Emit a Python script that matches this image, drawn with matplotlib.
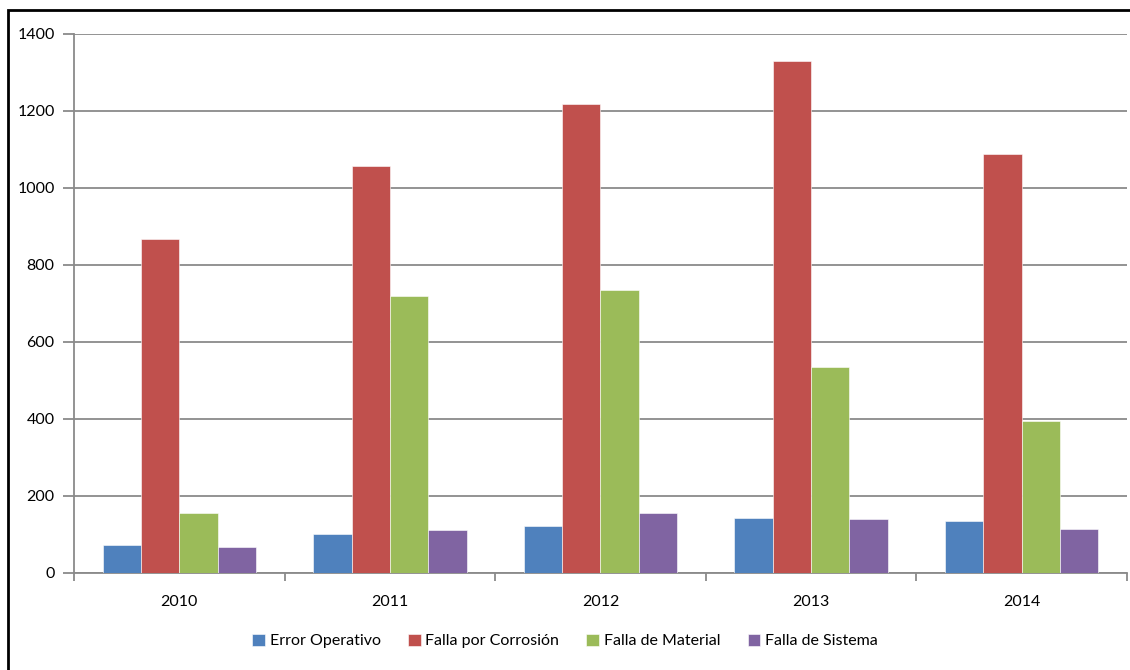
import numpy as np
from matplotlib import pyplot as plt
from matplotlib.patches import Rectangle

years = ["2010", "2011", "2012", "2013", "2014"]
series = ["Error Operativo", "Falla por Corrosión", "Falla de Material", "Falla de Sistema"]
error_operativo = [73, 102, 122, 143, 136]
falla_corrosion = [868, 1057, 1218, 1330, 1088]
falla_material = [156, 719, 735, 535, 395]
falla_sistema = [67, 112, 156, 140, 115]
colores = ["#4F81BD", "#C0504D", "#9BBB59", "#8064A2"]

plt.rcParams['font.family'] = ['Lato', 'DejaVu Sans']

fig = plt.figure(figsize=(11.3, 6.7), dpi=100)
ax = fig.add_axes([0.0655, 0.1448, 0.9318, 0.8045])

x = np.arange(len(years))
ancho = 0.182
datos = [error_operativo, falla_corrosion, falla_material, falla_sistema]
for i, (nombre, valores) in enumerate(zip(series, datos)):
    ax.bar(x + (i - 1.5) * ancho, valores, ancho, color=colores[i],
           edgecolor="#ffffff", linewidth=0.4, label=nombre, zorder=3)

ax.set_xlim(-0.5, len(years) - 0.5)
ax.set_ylim(0, 1400)
ax.set_yticks(range(0, 1401, 200))
ax.yaxis.grid(True, color="#8a8a8a", linewidth=1.3, zorder=1)
ax.set_xticks(x)
ax.set_xticklabels(years)
ax.set_xticks(np.arange(-0.5, len(years)), minor=True)
ax.tick_params(axis='x', which='major', length=0, pad=16, labelsize=11.5)
ax.tick_params(axis='x', which='minor', length=6, width=1.3, color="#8a8a8a", direction='out')
ax.tick_params(axis='y', length=8, width=1.3, color="#8a8a8a", pad=6, labelsize=11.5)

for lado in ['top', 'right']:
    ax.spines[lado].set_visible(False)
for lado in ['left', 'bottom']:
    ax.spines[lado].set_color("#8a8a8a")
    ax.spines[lado].set_linewidth(1.3)

fig.legend(loc='center', bbox_to_anchor=(0.5, 1 - 641 / 670), ncol=4, frameon=False,
           fontsize=11.5, handlelength=0.8, handleheight=0.8, handletextpad=0.3,
           columnspacing=1.7)

# marco negro del grafico
fig.patches.append(Rectangle((8 / 1130, -0.1), 1.2, 1.1 - 10 / 670, transform=fig.transFigure,
                             fill=False, edgecolor="black", linewidth=2))

fig.savefig("out.png", dpi=100)
